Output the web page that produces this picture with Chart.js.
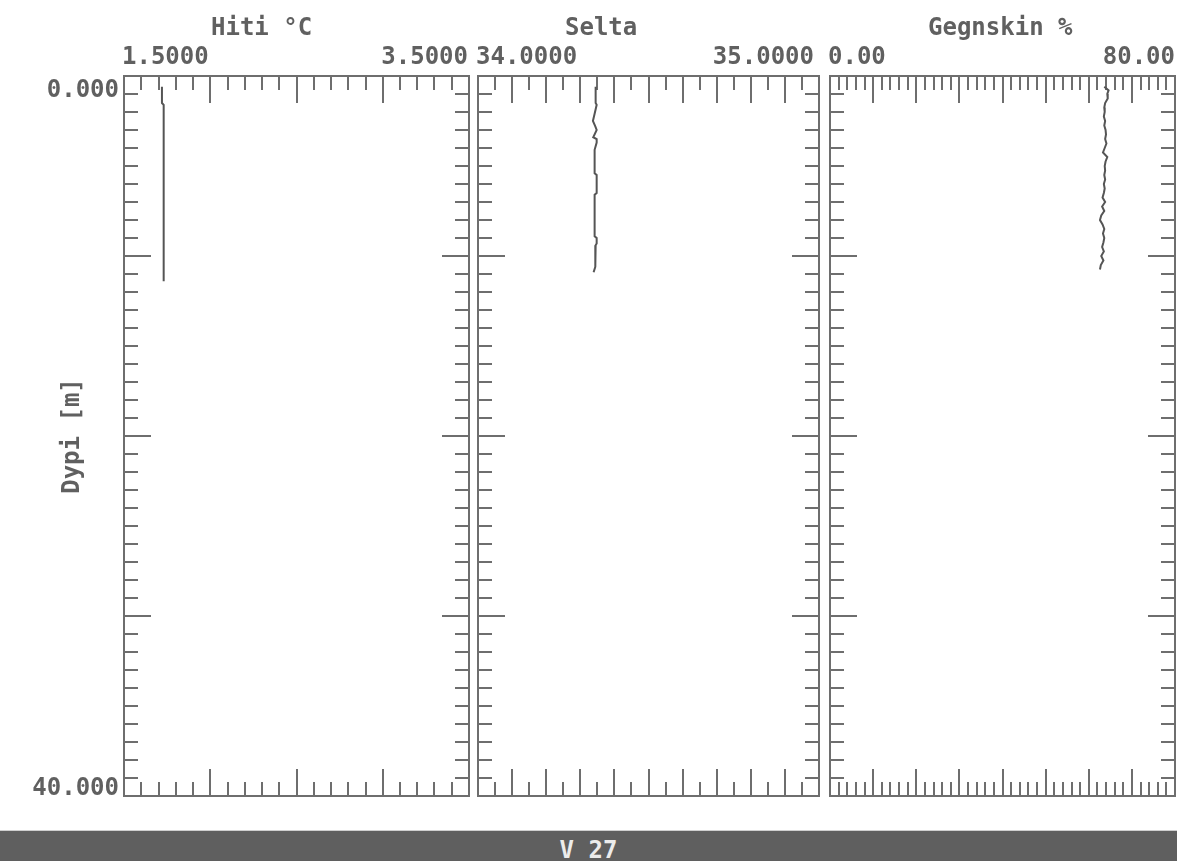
<!DOCTYPE html>
<html>
<head>
<meta charset="utf-8">
<title>V 27</title>
<script src="https://cdn.jsdelivr.net/npm/chart.js@4/dist/chart.umd.min.js"></script>
<style>
  html, body { margin: 0; padding: 0; background: #fff; }
  #wrap { position: relative; width: 1177px; height: 861px; overflow: hidden; background: #fff; }
  #wrap canvas { position: absolute; left: 0; top: 0; }
  #footer {
    position: absolute; left: 0; top: 830px; width: 1177px; height: 31px;
    background: #5f5f5f; border-top: 1px solid #cfcfcf;
    color: #ececec; font: bold 24px "DejaVu Sans Mono", monospace;
    text-align: center; line-height: 38px; white-space: pre;
  }
</style>
</head>
<body>
<div id="wrap">
  <canvas id="panelTemp" width="1177" height="861"></canvas>
  <canvas id="panelSal" width="1177" height="861"></canvas>
  <canvas id="panelTrans" width="1177" height="861"></canvas>
  <div id="footer">V 27</div>
</div>
<script>
(function () {
  'use strict';

  // --- data ---
  var depthRange = [0, 40];
  var depthLabels = ['0.000', '40.000'];
  var depthTitle = 'Dypi [m]';
  var panelTitles = ['Hiti °C', 'Selta', 'Gegnskin %'];
  var xRanges = [[1.5, 3.5], [34.0, 35.0], [0, 80]];
  var xDecimals = [4, 4, 2];

  var tempDepth = [0.6, 1.5, 1.6, 11.4];
  var tempValues = [1.720, 1.720, 1.730, 1.730];

  var salDepth = [0.6, 1.5, 1.6, 2.1, 2.5, 2.8, 3.0, 3.4, 3.5, 3.7, 4.1, 4.2,
    5.4, 5.5, 6.5, 6.6, 8.9, 9.0, 9.3, 9.4, 10.6, 10.9];
  var salValues = [34.345, 34.345, 34.348, 34.342, 34.337, 34.344, 34.348, 34.338,
    34.348, 34.348, 34.342, 34.342, 34.342, 34.348, 34.348, 34.342, 34.342, 34.348,
    34.348, 34.345, 34.344, 34.339];

  var transDepth = [0.6, 0.8, 1.0, 1.25, 1.5, 1.75, 2.0, 2.25, 2.5, 2.75, 3.0, 3.25,
    3.5, 3.75, 4.0, 4.25, 4.5, 4.75, 5.0, 5.25, 5.5, 5.75, 6.0, 6.25, 6.5, 6.75,
    7.0, 7.25, 7.5, 7.75, 8.0, 8.25, 8.5, 8.75, 9.0, 9.25, 9.5, 9.75, 10.0, 10.25,
    10.5, 10.75];
  var transValues = [63.6, 64.6, 64.3, 64.4, 63.8, 63.6, 63.7, 63.5, 63.8, 63.6, 63.9,
    64.0, 63.8, 64.1, 63.7, 63.3, 64.3, 63.9, 63.7, 63.8, 63.6, 63.8, 63.5, 63.7,
    63.5, 63.2, 63.8, 63.1, 63.6, 62.9, 62.6, 63.2, 63.6, 63.3, 63.6, 63.4, 63.1,
    63.5, 62.9, 63.4, 62.8, 62.6];

  // --- layout / style ---
  var W = 1177, H = 861;
  var boxTop = 76, boxBottom = 796;
  var panelBox = [[124, 469], [478, 819], [830, 1175]];
  var titleX = [211, 565, 928];
  var rightLabelInset = [1, 5, 0];
  var xStep = [0.1, 0.05, 2];
  var xMajorEvery = [5, 2, 5];
  var frameColor = '#6e6e6e';
  var textColor = '#606060';
  var lineColor = '#555555';
  var font = 'bold 24px "DejaVu Sans Mono", monospace';

  var profileFrame = {
    id: 'profileFrame',
    beforeDatasetsDraw: function (chart, args, opts) {
      var ctx = chart.ctx;
      var a = chart.chartArea;
      var xs = chart.scales.x;
      var ys = chart.scales.y;
      var k, n, px, py, len;
      ctx.save();
      ctx.strokeStyle = frameColor;
      ctx.lineWidth = 2;
      ctx.strokeRect(a.left, a.top, a.right - a.left, a.bottom - a.top);
      ctx.beginPath();
      n = Math.round((xs.max - xs.min) / opts.xStep);
      for (k = 1; k < n; k++) {
        px = Math.round(xs.getPixelForValue(xs.min + k * opts.xStep));
        len = k % opts.xMajor === 0 ? 27 : 14;
        ctx.moveTo(px, a.top); ctx.lineTo(px, a.top + len);
        ctx.moveTo(px, a.bottom); ctx.lineTo(px, a.bottom - len);
      }
      n = Math.round((ys.max - ys.min) / opts.yStep);
      for (k = 1; k < n; k++) {
        py = Math.round(ys.getPixelForValue(ys.min + k * opts.yStep));
        len = k % opts.yMajor === 0 ? 27 : 14;
        ctx.moveTo(a.left, py); ctx.lineTo(a.left + len, py);
        ctx.moveTo(a.right, py); ctx.lineTo(a.right - len, py);
      }
      ctx.stroke();

      ctx.fillStyle = textColor;
      ctx.font = font;
      ctx.textBaseline = 'alphabetic';
      ctx.textAlign = 'left';
      ctx.fillText(opts.title, opts.titleX, 35);
      ctx.fillText(xs.min.toFixed(opts.decimals), a.left - 2, 64);
      ctx.textAlign = 'right';
      ctx.fillText(xs.max.toFixed(opts.decimals), a.right - opts.rightInset, 64);

      if (opts.showDepth) {
        ctx.textAlign = 'right';
        ctx.fillText(depthLabels[0], a.left - 5, ys.getPixelForValue(ys.min) + 21);
        ctx.fillText(depthLabels[1], a.left - 5, ys.getPixelForValue(ys.max) - 1);
        ctx.save();
        ctx.translate(79, (a.top + a.bottom) / 2);
        ctx.rotate(-Math.PI / 2);
        ctx.textAlign = 'center';
        ctx.fillText(depthTitle, 0, 0);
        ctx.restore();
      }
      ctx.restore();
    }
  };

  function makePanel(canvasId, idx, depths, values) {
    var pts = depths.map(function (d, i) {
      return { x: values[i], y: d };
    });
    return new Chart(document.getElementById(canvasId), {
      type: 'scatter',
      data: {
        datasets: [{
          data: pts,
          showLine: true,
          borderColor: lineColor,
          borderWidth: 2,
          pointRadius: 0,
          fill: false,
          tension: 0
        }]
      },
      options: {
        responsive: false,
        animation: false,
        devicePixelRatio: 1,
        layout: {
          padding: {
            left: panelBox[idx][0],
            right: W - panelBox[idx][1],
            top: boxTop,
            bottom: H - boxBottom
          }
        },
        scales: {
          x: { type: 'linear', display: false, min: xRanges[idx][0], max: xRanges[idx][1] },
          y: { type: 'linear', display: false, min: depthRange[0], max: depthRange[1], reverse: true }
        },
        plugins: {
          legend: { display: false },
          tooltip: { enabled: false },
          profileFrame: {
            title: panelTitles[idx],
            titleX: titleX[idx],
            decimals: xDecimals[idx],
            rightInset: rightLabelInset[idx],
            xStep: xStep[idx],
            xMajor: xMajorEvery[idx],
            yStep: 1,
            yMajor: 10,
            showDepth: idx === 0
          }
        }
      },
      plugins: [profileFrame]
    });
  }

  makePanel('panelTemp', 0, tempDepth, tempValues);
  makePanel('panelSal', 1, salDepth, salValues);
  makePanel('panelTrans', 2, transDepth, transValues);
})();
</script>
</body>
</html>
